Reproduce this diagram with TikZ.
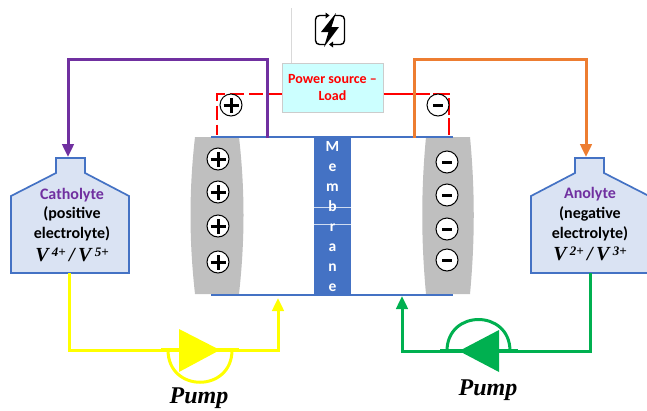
\documentclass[tikz,border=0pt]{standalone}
\usepackage{fontspec}
\setmainfont{Carlito}
\newfontfamily\vfont{Liberation Serif}
\usetikzlibrary{arrows.meta,calc}
\definecolor{tankfill}{HTML}{DAE3F3}
\definecolor{blueline}{HTML}{4472C4}
\definecolor{plate}{HTML}{BFBFBF}
\definecolor{purp}{HTML}{7030A0}
\definecolor{orng}{HTML}{ED7D31}
\definecolor{yell}{HTML}{FFFF00}
\definecolor{grn}{HTML}{00B050}
\definecolor{boxfill}{HTML}{CCFFFF}
\tikzset{
  pipe/.style={line width=#1,-{Triangle[length=13pt,width=11.5pt]}},
  pipe/.default=3pt,
  tank/.style={draw=blueline,fill=tankfill,line width=1.7pt,line join=miter},
  tanktext/.style={font=\fontsize{16}{16}\selectfont\bfseries,inner sep=0pt,anchor=center},
  vtext/.style={font=\vfont\fontsize{20}{20}\selectfont\bfseries\itshape,inner sep=0pt,anchor=center},
  pumplabel/.style={font=\vfont\fontsize{24}{24}\selectfont\bfseries\itshape,inner sep=0pt,anchor=center},
  charge/.style={circle,draw=black,fill=white,line width=1pt,minimum size=22pt,inner sep=0pt},
  pluscharge/.style={charge,path picture={
    \draw[black,line width=3pt] ($(path picture bounding box.center)+(-7.5pt,0)$)--($(path picture bounding box.center)+(7.5pt,0)$);
    \draw[black,line width=3pt] ($(path picture bounding box.center)+(0,-7.5pt)$)--($(path picture bounding box.center)+(0,7.5pt)$);}},
  minuscharge/.style={charge,path picture={
    \draw[black,line width=3pt] ($(path picture bounding box.center)+(-5pt,0)$)--($(path picture bounding box.center)+(5pt,0)$);}},
  redwire/.style={red,line width=1.8pt,dash pattern=on 14pt off 5pt},
}
\begin{document}
\begin{tikzpicture}[x=1pt,y=-1pt]
\useasboundingbox (0,0) rectangle (647,410);
% faint guide line
\draw[gray!30,line width=.6pt] (291.5,8) -- (291.5,63);
% plates
\fill[plate] (195,137) .. controls (189,190) and (189,240) .. (195,294) -- (239,294) .. controls (245,240) and (245,190) .. (239,137) -- cycle;
\fill[plate] (426,137) .. controls (421,190) and (421,240) .. (426,294) -- (470,294) .. controls (475,240) and (475,190) .. (470,137) -- cycle;
% membrane
\node[fill=blueline,minimum width=37pt,minimum height=157pt,inner sep=0pt,anchor=north west] (membrane) at (314,137) {};
\draw[white!75!blueline,line width=.8pt] (314,207) -- (351,207);
\draw[white!75!blueline,line width=.8pt] (314,224) -- (351,224);
\node[text=white,font=\fontsize{15.5}{19.9}\selectfont\bfseries,align=center,inner sep=0pt,anchor=center] at (332.5,216.5) {M\\e\\m\\b\\r\\a\\n\\e};
% cell top and bottom
\coordinate (celltopL) at (211,137);
\coordinate (celltopR) at (453,137);
\coordinate (cellbotL) at (211,295);
\coordinate (cellbotR) at (453,295);
\draw[blueline,line width=1.6pt] (celltopL) -- (celltopR);
\draw[blueline,line width=1.6pt] (cellbotL) -- (cellbotR);
% red wires
\coordinate (redL) at (217,135);
\coordinate (redR) at (449,135);
\coordinate (redLc) at (217,94);
\coordinate (redRc) at (449,94);
\coordinate (orngX) at (414,94);
% power box
\node[draw=gray!40,fill=boxfill,line width=1pt,minimum width=101pt,minimum height=49pt,inner sep=0pt,align=center,text=red,
  font=\fontsize{14}{17}\selectfont\bfseries] (power) at (332.5,87.5) {Power source --\\Load};
\draw[redwire] (power.west |- redLc) -- (redLc) -- (redL);
\draw[red,line width=1.8pt] (power.east |- orngX) -- (orngX);
\draw[redwire,dash pattern=on 17pt off 3pt] (redR) -- (redRc) -- (orngX);
\node[pluscharge] (ptop) at (231,105) {};
\node[minuscharge] (mtop) at (438,105) {};
% tanks
\draw[tank] (56,158) -- (85,158) -- (85,173) -- (129,196) -- (129,273) -- (11,273) -- (11,196) -- (56,173) -- cycle;
\coordinate (cathIn) at (68,157);
\coordinate (cathOut) at (69,273);
\node[tanktext,text=purp] (cath) at (72,195) {Catholyte};
\node[tanktext] (cath1) at (72,214) {(positive};
\node[tanktext] (cath2) at (72,234) {electrolyte)};
\node[vtext] (cath3) at (72,255) {V\,\raisebox{5.5pt}{\fontsize{13}{13}\selectfont 4+}\,/\,V\,\raisebox{5.5pt}{\fontsize{13}{13}\selectfont 5+}};
\draw[tank] (575,158) -- (604,158) -- (604,173) -- (649,196) -- (649,273) -- (531,273) -- (531,196) -- (575,173) -- cycle;
\coordinate (anoIn) at (586,157);
\coordinate (anoOut) at (590,273);
\node[tanktext,text=purp] (ano) at (590,194) {Anolyte};
\node[tanktext] (ano1) at (590,214) {(negative};
\node[tanktext] (ano2) at (590,234) {electrolyte)};
\node[vtext] (ano3) at (590,254) {V\,\raisebox{5.5pt}{\fontsize{13}{13}\selectfont 2+}\,/\,V\,\raisebox{5.5pt}{\fontsize{13}{13}\selectfont 3+}};
% purple and orange pipes
\coordinate (purpS) at (267,138);
\coordinate (orngS) at (414,138);
\draw[pipe,purp,line join=miter] (purpS) -- (267,59) -- (68,59) -- (cathIn);
\draw[pipe,orng,line join=miter] (orngS) -- (414,59) -- (586,59) -- (anoIn);
% yellow loop
\coordinate (yEnd) at (278,298);
\coordinate (gEnd) at (402,296);
\draw[pipe,yell,line join=miter] (cathOut) -- (69,350) -- (278,350) -- (yEnd);
\draw[yell,line width=4pt] (161,350) -- (239,350);
\draw[yell,line width=3pt] (168,350) .. controls (168,393) and (232,393) .. (232,350);
\fill[yell] (179,329) -- (220,350) -- (179,372) -- cycle;
% green loop
\draw[pipe,grn,line join=miter] (anoOut) -- (590,351) -- (402,351) -- (gEnd);
\draw[grn,line width=4pt] (440,351) -- (518,351);
\draw[grn,line width=3pt] (447,351) .. controls (447,309) and (510,309) .. (510,351);
\fill[grn] (499,330) -- (459,351) -- (499,372) -- cycle;
% charges
\foreach \n/\yy in {1/159,2/192,3/226,4/262} \node[pluscharge] (p\n) at (218,\yy) {};
\foreach \n/\yy in {1/162,2/195,3/229,4/260} \node[minuscharge] (m\n) at (447,\yy) {};
% pump labels
\node[pumplabel] (pump1) at (199,398.5) {Pump};
\node[pumplabel] (pump2) at (488,390) {Pump};
% power icon
\draw[black,line width=1.4pt,rounded corners=4pt] (327,15.5) -- (315.5,15.5) -- (315.5,44.5) -- (325,44.5);
\draw[black,line width=1.4pt,rounded corners=4pt] (332,44.5) -- (344.5,44.5) -- (344.5,15.5) -- (335,15.5);
\fill[black] (325.5,12.5) -- (329.5,15.5) -- (325.5,18.5) -- cycle;
\fill[black] (333,41.5) -- (329,44.5) -- (333,47.5) -- cycle;
\fill[black] (336,13) -- (321,32) -- (328.5,32) -- (324,47) -- (339,27) -- (331.5,27) -- cycle;
\end{tikzpicture}
\end{document}
